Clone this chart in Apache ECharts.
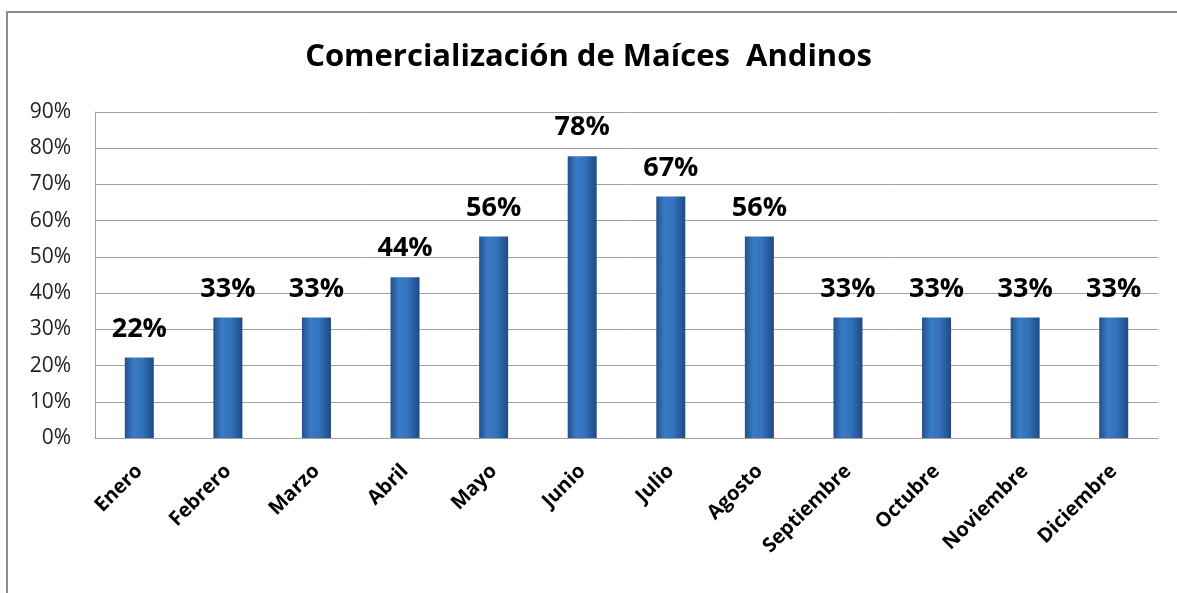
<!DOCTYPE html>
<html>
<head>
<meta charset="utf-8">
<script src="https://cdn.jsdelivr.net/npm/echarts@6/dist/echarts.min.js"></script>
<style>
  html, body { margin: 0; padding: 0; background: #fff; }
  #chart { width: 1177px; height: 593px; }
</style>
</head>
<body>
<div id="chart"></div>
<script>
// meses y porcentajes
const meses = ['Enero', 'Febrero', 'Marzo', 'Abril', 'Mayo', 'Junio', 'Julio',
  'Agosto', 'Septiembre', 'Octubre', 'Noviembre', 'Diciembre'];
const valores = [22.2, 33.3, 33.3, 44.4, 55.6, 77.8, 66.7, 55.6, 33.3, 33.3, 33.3, 33.3];

const fuente = '"Open Sans", sans-serif';

let myChart = echarts.init(document.getElementById('chart'));
let option = {
  backgroundColor: '#fff',
  title: {
    text: 'Comercialización de Maíces  Andinos',
    left: 'center',
    top: 37,
    textStyle: { fontFamily: fuente, fontSize: 31, fontWeight: 'bold', color: '#000' }
  },
  // borde del gráfico
  graphic: [{
    type: 'rect',
    shape: { x: 7, y: 12, width: 1190, height: 600 },
    style: { fill: 'none', stroke: '#8c8c8c', lineWidth: 2 },
    silent: true
  }],
  grid: { left: 95, right: 19, top: 112, bottom: 155 },
  xAxis: {
    type: 'category',
    data: meses,
    axisLine: { lineStyle: { color: '#a0a0a0' } },
    axisTick: { show: false },
    axisLabel: {
      rotate: 45,
      margin: 30,
      interval: 0,
      fontFamily: fuente,
      fontSize: 20,
      fontWeight: 'bold',
      color: '#000'
    }
  },
  yAxis: {
    type: 'value',
    min: 0,
    max: 90,
    interval: 10,
    axisLine: { show: true, lineStyle: { color: '#a0a0a0' } },
    axisTick: { show: false },
    splitLine: { lineStyle: { color: '#a0a0a0' } },
    axisLabel: {
      margin: 24,
      fontFamily: fuente,
      fontSize: 21,
      color: '#222',
      formatter: '{value}%'
    }
  },
  series: [{
    type: 'bar',
    data: valores,
    barWidth: 29,
    itemStyle: {
      color: new echarts.graphic.LinearGradient(0, 0, 1, 0, [
        { offset: 0, color: '#244f8a' },
        { offset: 0.3, color: '#3a7cc6' },
        { offset: 0.6, color: '#3372bb' },
        { offset: 1, color: '#1f4a84' }
      ])
    },
    label: {
      show: true,
      position: 'top',
      distance: 15,
      fontFamily: fuente,
      fontSize: 27,
      fontWeight: 'bold',
      color: '#000',
      formatter: function (p) { return Math.round(p.value) + '%'; }
    }
  }]
};
myChart.setOption(option);
</script>
</body>
</html>
